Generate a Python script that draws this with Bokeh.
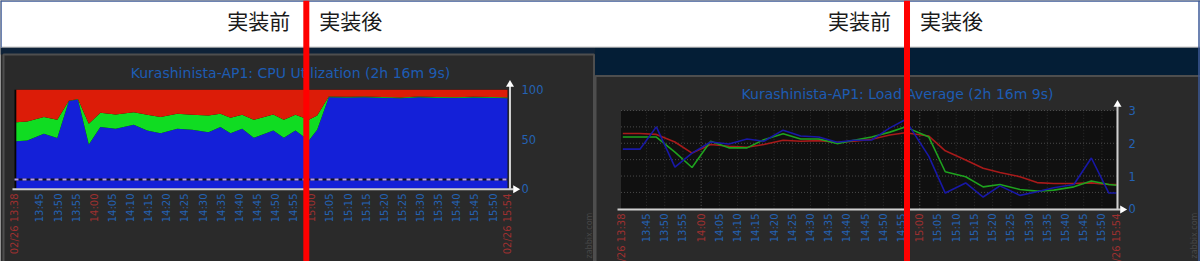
import math
from bokeh.plotting import figure
from bokeh.models import Range1d
from bokeh.core.properties import value
from bokeh.embed import file_html
from bokeh.resources import INLINE

# ---------------- data ----------------
TICK_LABELS = ["02/26 13:38", "13:45", "13:50", "13:55", "14:00", "14:05", "14:10",
               "14:15", "14:20", "14:25", "14:30", "14:35", "14:40", "14:45", "14:50",
               "14:55", "15:00", "15:05", "15:10", "15:15", "15:20", "15:25", "15:30",
               "15:35", "15:40", "15:45", "15:50", "02/26 15:54"]
HIGHLIGHT_LABELS = ["02/26 13:38", "14:00", "15:00", "02/26 15:54"]
START_LABEL = "13:38"
END_LABEL = "15:54"

CPU_TITLE = "Kurashinista-AP1: CPU Utilization (2h 16m 9s)"
# minutes after 13:38
cpu_time = [0.5, 3.5, 8.1, 11.8, 15.0, 17.5, 20.5, 23.7, 27.9, 32.9, 36.6, 40.3, 44.9,
            49.0, 53.5, 56.8, 59.6, 62.8, 66.0, 71.4, 74.3, 77.5, 81.2, 83.5, 86.7, 91.6,
            96.5, 101.5, 106.5, 111.5, 116.5, 121.5, 126.5, 131.5, 136.0]
cpu_blue_top = [48.1, 48.8, 55.6, 51.2, 88.6, 90.2, 44.8, 62.3, 60.6, 64.6, 58.9, 56.2,
                60.6, 59.6, 57.2, 62.3, 56.2, 60.6, 51.5, 58.9, 51.5, 58.9, 48.8, 59.6,
                92.6, 92.3, 92.6, 92.0, 91.4, 92.6, 92.0, 91.7, 92.3, 92.0, 91.5]
cpu_green_top = [67.3, 68.0, 72.4, 69.7, 88.9, 90.8, 65.7, 76.8, 75.1, 77.4, 74.7, 72.4,
                 75.8, 74.7, 74.0, 75.8, 71.7, 74.7, 69.7, 75.1, 69.7, 74.7, 69.7, 74.0,
                 93.3, 93.0, 93.3, 92.7, 92.1, 93.3, 92.7, 92.4, 93.0, 92.7, 92.2]
CPU_MAX = 100
cpu_tick_values = [0, 50, 100]
cpu_trigger = 9.5

LOAD_TITLE = "Kurashinista-AP1: Load Average (2h 16m 9s)"
load_time = [0.5, 5.2, 9.7, 14.8, 19.5, 24.6, 29.6, 34.6, 39.2, 44.5, 49.3, 54.3, 59.3,
             63.9, 68.8, 73.8, 78.0, 84.5, 89.0, 94.6, 99.4, 104.0, 109.5, 114.2, 118.8,
             124.3, 129.1, 133.9, 136.0]
load_1min = [1.82, 1.82, 2.50, 1.27, 1.70, 2.04, 1.98, 2.13, 2.06, 2.40, 2.22, 2.19, 2.03,
             2.09, 2.10, 2.47, 2.72, 1.60, 0.48, 0.79, 0.36, 0.70, 0.41, 0.52, 0.64, 0.74,
             1.55, 0.48, 0.48]
load_5min = [2.19, 2.19, 2.19, 1.73, 1.26, 2.06, 1.86, 1.86, 2.11, 2.29, 2.13, 2.13, 1.99,
             2.09, 2.19, 2.34, 2.50, 2.19, 1.13, 0.98, 0.67, 0.74, 0.59, 0.54, 0.57, 0.67,
             0.85, 0.74, 0.72]
load_15min = [2.30, 2.30, 2.27, 2.04, 1.70, 1.96, 1.91, 1.88, 1.96, 2.09, 2.06, 2.08, 2.03,
              2.06, 2.12, 2.25, 2.32, 2.22, 1.77, 1.49, 1.24, 1.11, 0.98, 0.80, 0.77, 0.77,
              0.79, 0.74, 0.74]
LOAD_MAX = 3
load_tick_values = [0, 1, 2, 3]
load_grid_values = [0.5, 1.0, 1.5, 2.0, 2.5, 3.0]

BEFORE_TEXT = "実装前"
AFTER_TEXT = "実装後"
impl_time_cpu = 80.5    # minutes after 13:38, as marked on the CPU screenshot
impl_time_load = 78.5   # as marked on the load screenshot
WATERMARK = "zabbix.com"

# ---------------- helpers ----------------
def to_min(label):
    hh, mm = label.split()[-1].split(":")
    sh, sm = START_LABEL.split(":")
    return int(hh) * 60 + int(mm) - (int(sh) * 60 + int(sm))

tick_pos = [to_min(t) for t in TICK_LABELS]
t_end = to_min(END_LABEL)

W, H = 1200, 261

def x_range_for(d0, d1, p0, p1):
    k = (d1 - d0) / (p1 - p0)
    return Range1d(start=d0 - p0 * k, end=d0 + (W - p0) * k)

def y_range_for(v0, v1, p0, p1):
    k = (v1 - v0) / (p0 - p1)
    return Range1d(start=v0 - (H - p0) * k, end=v0 + p0 * k)

# layout (pixels)
L_X0, L_X1 = 14, 507
L_Y0, L_Y1 = 188.3, 89.3
R_X0, R_X1 = 620.5, 1116
R_Y0, R_Y1 = 208.3, 110

p = figure(width=W, height=H, x_range=Range1d(0, W), y_range=Range1d(H, 0),
           min_border=0, x_axis_location=None, y_axis_location=None,
           toolbar_location=None, output_backend="svg", outline_line_color=None,
           background_fill_color="#2a2a2a", border_fill_color="#2a2a2a")
p.xgrid.visible = False
p.ygrid.visible = False
p.extra_x_ranges = {"Lx": x_range_for(0, t_end, L_X0, L_X1),
                    "Rx": x_range_for(0, t_end, R_X0, R_X1)}
p.extra_y_ranges = {"Ly": y_range_for(0, CPU_MAX, L_Y0, L_Y1),
                    "Ry": y_range_for(0, LOAD_MAX, R_Y0, R_Y1)}

FONT = value("DejaVu Sans")
BLUE_TXT = "#2462b4"
RED_TXT = "#9e3030"
AXIS_C = "#cfcfcf"
TICK_SIZE = "10px"

# ---------------- page decoration ----------------
p.quad(left=[0], right=[W], top=[0], bottom=[47], fill_color="white", line_color=None)
p.quad(left=[0], right=[594], top=[47], bottom=[54], fill_color="#0e2238", line_color=None)
p.quad(left=[594], right=[W], top=[47], bottom=[75], fill_color="#041e36", line_color=None)
p.quad(left=[3], right=[593.5], top=[54], bottom=[H + 5], fill_color="#2a2a2a",
       line_color="#4e4e4e", line_width=2)
p.quad(left=[595], right=[W + 5], top=[75.5], bottom=[H + 5], fill_color="#2a2a2a",
       line_color="#4e4e4e", line_width=2)
p.segment(x0=[0], y0=[46.5], x1=[W], y1=[46.5], line_color="#c8c8c8", line_width=1)
p.segment(x0=[0, 0.5, 1198.5], y0=[0.5, 0, 0], x1=[W, 0.5, 1198.5], y1=[0.5, 47, H],
          line_color="#3c5a98", line_width=1.5)

# ---------------- CPU chart ----------------
p.quad(left=[0], right=[t_end], bottom=[0], top=[CPU_MAX], fill_color="#050505",
       line_color=None, x_range_name="Lx", y_range_name="Ly")
p.varea(x=cpu_time, y1=[0] * len(cpu_time), y2=cpu_blue_top, fill_color="#1420d8",
        x_range_name="Lx", y_range_name="Ly")
p.varea(x=cpu_time, y1=cpu_blue_top, y2=cpu_green_top, fill_color="#10dc22",
        x_range_name="Lx", y_range_name="Ly")
p.varea(x=cpu_time, y1=cpu_green_top, y2=[CPU_MAX] * len(cpu_time), fill_color="#dc1c08",
        x_range_name="Lx", y_range_name="Ly")
p.line(x=[0, t_end], y=[cpu_trigger, cpu_trigger], line_color="#101020", line_width=2,
       x_range_name="Lx", y_range_name="Ly")
p.line(x=[0, t_end], y=[cpu_trigger, cpu_trigger], line_color="#b49ae6", line_width=2,
       line_dash="4 4", x_range_name="Lx", y_range_name="Ly")

# axes
p.segment(x0=[509.5, 12], y0=[84, 188.8], x1=[509.5, 513], y1=[188.8, 188.8],
          line_color=AXIS_C, line_width=2)
p.scatter(x=[509.5, 515], y=[84, 188.8], marker="triangle", size=8, angle=[0, -math.pi / 2],
          fill_color="white", line_color=None)
p.text(x=[521] * len(cpu_tick_values), y=cpu_tick_values,
       text=[str(v) for v in cpu_tick_values], text_align="left", text_baseline="middle",
       text_font=FONT, text_font_size="11.5px", text_color=BLUE_TXT, y_range_name="Ly")

tick_colors = [RED_TXT if t in HIGHLIGHT_LABELS else BLUE_TXT for t in TICK_LABELS]
p.text(x=tick_pos, y=[193] * len(tick_pos), text=TICK_LABELS, angle=math.pi / 2,
       text_align="right", text_baseline="middle", text_font=FONT, text_font_size=TICK_SIZE,
       text_color=tick_colors, x_range_name="Lx")
p.text(x=[290], y=[72.5], text=[CPU_TITLE], text_align="center", text_baseline="middle",
       text_font=FONT, text_font_size="14px", text_color="#1d5cb3")
p.text(x=[589], y=[258], text=[WATERMARK], angle=math.pi / 2, text_align="left",
       text_baseline="middle", text_font=FONT, text_font_size="8px", text_color="#474747")

# ---------------- Load chart ----------------
p.quad(left=[0], right=[t_end], bottom=[0], top=[LOAD_MAX], fill_color="#101010",
       line_color=None, x_range_name="Rx", y_range_name="Ry")
vx = [t for t in tick_pos if 0 < t < t_end]
vcol = ["#5a5a5a" if (t + 38) % 60 == 0 else "#2e2e2e" for t in vx]
p.segment(x0=vx, y0=[0] * len(vx), x1=vx, y1=[LOAD_MAX] * len(vx), line_color=vcol,
          line_width=1, line_dash="1 2", x_range_name="Rx", y_range_name="Ry")
p.segment(x0=[0] * len(load_grid_values), y0=load_grid_values,
          x1=[t_end] * len(load_grid_values), y1=load_grid_values, line_color="#4a4a4a",
          line_width=1, line_dash="1 2", x_range_name="Rx", y_range_name="Ry")
p.line(x=load_time, y=load_15min, line_color="#a81a1a", line_width=1.6,
       x_range_name="Rx", y_range_name="Ry")
p.line(x=load_time, y=load_5min, line_color="#1ea21e", line_width=1.6,
       x_range_name="Rx", y_range_name="Ry")
p.line(x=load_time, y=load_1min, line_color="#1818a6", line_width=1.6,
       x_range_name="Rx", y_range_name="Ry")

p.segment(x0=[1117, 617], y0=[104, 209], x1=[1117, 1120], y1=[209, 209],
          line_color=AXIS_C, line_width=2)
p.scatter(x=[1117, 1122], y=[104, 209], marker="triangle", size=8, angle=[0, -math.pi / 2],
          fill_color="white", line_color=None)
p.text(x=[1128] * len(load_tick_values), y=load_tick_values,
       text=[str(v) for v in load_tick_values], text_align="left", text_baseline="middle",
       text_font=FONT, text_font_size="11.5px", text_color=BLUE_TXT, y_range_name="Ry")
p.text(x=tick_pos, y=[213] * len(tick_pos), text=TICK_LABELS, angle=math.pi / 2,
       text_align="right", text_baseline="middle", text_font=FONT, text_font_size=TICK_SIZE,
       text_color=tick_colors, x_range_name="Rx")
p.text(x=[897], y=[93], text=[LOAD_TITLE], text_align="center", text_baseline="middle",
       text_font=FONT, text_font_size="14px", text_color="#1d5cb3")
p.text(x=[1194], y=[258], text=[WATERMARK], angle=math.pi / 2, text_align="left",
       text_baseline="middle", text_font=FONT, text_font_size="8px", text_color="#474747")

# ---------------- before / after annotation ----------------
JP = value("Noto Sans CJK JP")
for rng, t in (("Lx", impl_time_cpu), ("Rx", impl_time_load)):
    p.text(x=[t], y=[19], text=[BEFORE_TEXT], x_offset=-16, text_align="right",
           text_baseline="middle", text_font=JP, text_font_size="21px",
           text_color="#1a1a1a", x_range_name=rng)
    p.text(x=[t], y=[19], text=[AFTER_TEXT], x_offset=13, text_align="left",
           text_baseline="middle", text_font=JP, text_font_size="21px",
           text_color="#1a1a1a", x_range_name=rng)
    p.segment(x0=[t], y0=[0], x1=[t], y1=[H], line_color="#ff0000", line_width=6,
              x_range_name=rng)

open("out.html", "w").write(file_html(p, INLINE))
